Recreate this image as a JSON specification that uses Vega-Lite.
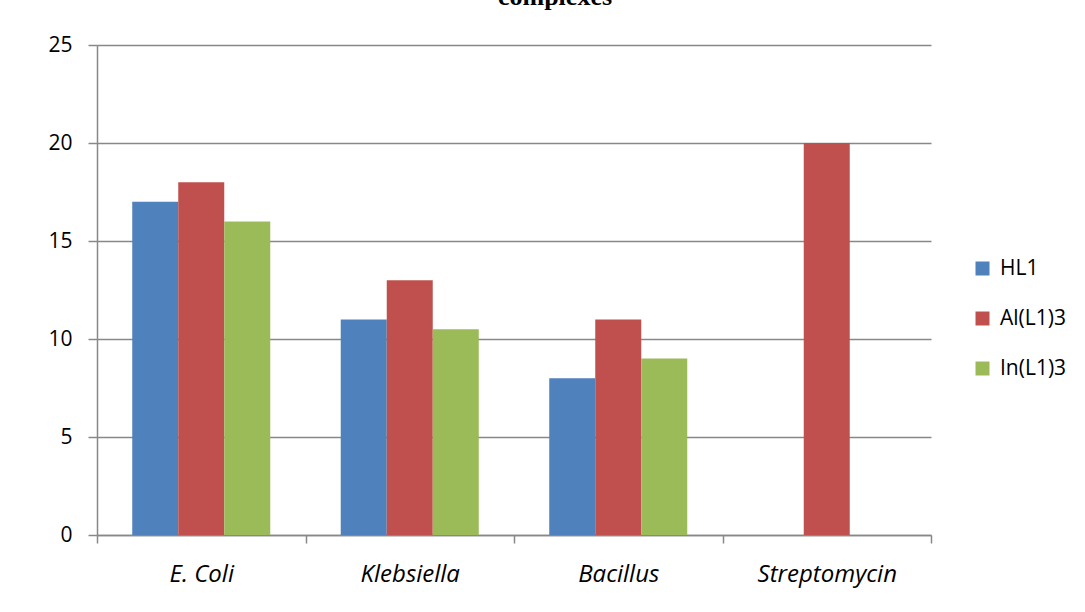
{
  "$schema": "https://vega.github.io/schema/vega-lite/v6.json",
  "autosize": {"type": "none"},
  "padding": {"left": 97, "top": 45, "right": 154, "bottom": 77},
  "width": 834,
  "height": 490,
  "background": "white",
  "title": {
    "text": "complexes",
    "font": "Liberation Serif",
    "fontSize": 26,
    "fontWeight": "bold",
    "color": "black",
    "anchor": "middle",
    "baseline": "bottom",
    "offset": -2,
    "dx": 41
  },
  "data": {
    "values": [
      {"organism": "E. Coli", "compound": "HL1", "zone": 17},
      {"organism": "E. Coli", "compound": "Al(L1)3", "zone": 18},
      {"organism": "E. Coli", "compound": "In(L1)3", "zone": 16},
      {"organism": "Klebsiella", "compound": "HL1", "zone": 11},
      {"organism": "Klebsiella", "compound": "Al(L1)3", "zone": 13},
      {"organism": "Klebsiella", "compound": "In(L1)3", "zone": 10.5},
      {"organism": "Bacillus", "compound": "HL1", "zone": 8},
      {"organism": "Bacillus", "compound": "Al(L1)3", "zone": 11},
      {"organism": "Bacillus", "compound": "In(L1)3", "zone": 9},
      {"organism": "Streptomycin", "compound": "Al(L1)3", "zone": 20}
    ]
  },
  "mark": {"type": "bar"},
  "encoding": {
    "x": {
      "field": "organism",
      "type": "nominal",
      "sort": ["E. Coli", "Klebsiella", "Bacillus", "Streptomycin"],
      "scale": {"paddingInner": 0, "paddingOuter": 0},
      "axis": {
        "title": null,
        "labelAngle": 0,
        "tickBand": "extent",
        "tickSize": 8,
        "labelPadding": 19,
        "labelFont": "Open Sans",
        "labelFontSize": 24,
        "labelFontStyle": "italic",
        "labelColor": "black",
        "domainColor": "#888888",
        "tickColor": "#888888",
        "domainWidth": 1.5,
        "tickWidth": 1.5
      }
    },
    "xOffset": {
      "field": "compound",
      "type": "nominal",
      "scale": {"domain": ["HL1", "Al(L1)3", "In(L1)3"], "paddingInner": 0, "paddingOuter": 0.766}
    },
    "y": {
      "field": "zone",
      "type": "quantitative",
      "scale": {"domain": [0, 25], "nice": false},
      "axis": {
        "title": null,
        "values": [0, 5, 10, 15, 20, 25],
        "tickSize": 9,
        "labelPadding": 16,
        "labelFont": "Open Sans",
        "labelFontSize": 21,
        "labelColor": "black",
        "domainColor": "#888888",
        "tickColor": "#888888",
        "gridColor": "#888888",
        "domainWidth": 1.5,
        "tickWidth": 1.5,
        "gridWidth": 1.5,
        "grid": true
      }
    },
    "color": {
      "field": "compound",
      "type": "nominal",
      "scale": {
        "domain": ["HL1", "Al(L1)3", "In(L1)3"],
        "range": ["#4F81BD", "#C0504D", "#9BBB59"]
      },
      "legend": {
        "title": null,
        "orient": "none",
        "legendX": 875,
        "legendY": 213,
        "symbolType": "square",
        "symbolSize": 196,
        "symbolStrokeWidth": 0,
        "labelFont": "Open Sans",
        "labelFontSize": 21,
        "labelColor": "black",
        "labelOffset": 7,
        "rowPadding": 28
      }
    }
  },
  "config": {"view": {"stroke": null}}
}
